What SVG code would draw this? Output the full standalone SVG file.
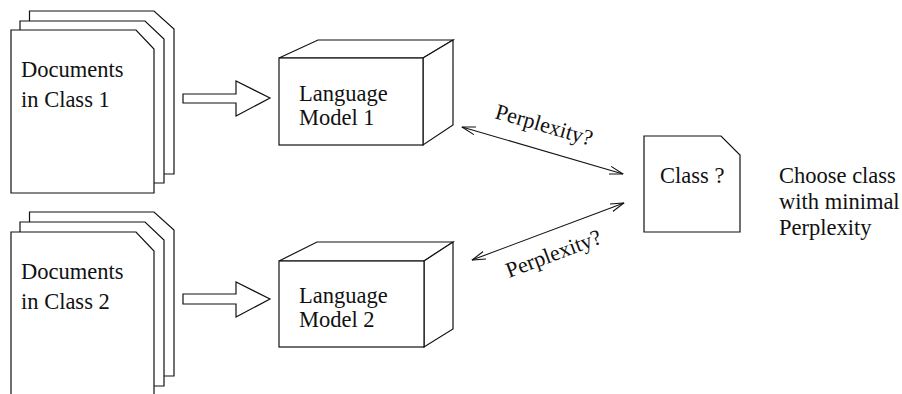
<svg xmlns="http://www.w3.org/2000/svg" width="902" height="394" viewBox="0 0 902 394">
<style>
.s{fill:#fff;stroke:#111;stroke-width:1.2;stroke-linejoin:miter}
.t{font-family:"Liberation Serif","Times New Roman",serif;font-size:22.5px;fill:#111}
.c{fill:none;stroke:#111;stroke-width:1.1}
</style>
<defs>
<marker id="ah" viewBox="0 0 14 10" refX="13.5" refY="5" markerWidth="14" markerHeight="10" markerUnits="userSpaceOnUse" orient="auto-start-reverse">
<path d="M0,1 L13.5,5 L0,9" fill="none" stroke="#111" stroke-width="1.1"/>
</marker>
</defs>
<rect width="902" height="394" fill="#fff"/>
<g id="docs1">
<polygon class="s" points="29.5,11 154,11 174,29 174,174 29.5,174"/>
<polygon class="s" points="20,21 145,21 164,39 164,183 20,183"/>
<polygon class="s" points="11,30 136,30 154,49 154,193 11,193"/>
<text class="t" x="21" y="77">Documents</text>
<text class="t" x="21" y="107">in Class 1</text>
</g>
<g id="docs2">
<polygon class="s" points="29.5,212 154,212 174,230 174,376 29.5,376"/>
<polygon class="s" points="20,222 145,222 164,240 164,386 20,386"/>
<polygon class="s" points="11,232 136,232 154,251 154,396 11,396"/>
<text class="t" x="21" y="279">Documents</text>
<text class="t" x="21" y="309">in Class 2</text>
</g>
<g id="lm1">
<polygon class="s" points="279,58 318,40 453,40 423,58"/>
<polygon class="s" points="423,58 453,40 453,125 423,145"/>
<rect class="s" x="279" y="58" width="144" height="87"/>
<text class="t" x="299" y="101">Language</text>
<text class="t" x="299" y="125">Model 1</text>
</g>
<g id="lm2">
<polygon class="s" points="279,261 317,242 453,242 424,261"/>
<polygon class="s" points="424,261 453,242 453,329 424,347"/>
<rect class="s" x="279" y="261" width="145" height="86"/>
<text class="t" x="299" y="303">Language</text>
<text class="t" x="299" y="327">Model 2</text>
</g>
<g id="classq">
<polygon class="s" points="644,136 721,136 740,155 740,232 644,232"/>
<text class="t" x="660" y="183">Class ?</text>
</g>
<g id="note">
<text class="t" x="779" y="183">Choose class</text>
<text class="t" x="779" y="209">with minimal</text>
<text class="t" x="779" y="235">Perplexity</text>
</g>
<g id="connectors">
<polygon class="s" points="183,94 236,94 236,81 270,98 236,116 236,103 183,103"/>
<polygon class="s" points="183,294 236,294 236,282 270,299 236,317 236,304 183,304"/>
<line class="c" x1="462" y1="127" x2="623" y2="174" marker-start="url(#ah)" marker-end="url(#ah)"/>
<line class="c" x1="472" y1="260" x2="624" y2="203" marker-start="url(#ah)" marker-end="url(#ah)"/>
<text class="t" font-size="22" transform="translate(494,118) rotate(16)" style="font-size:22px">Perplexity?</text>
<text class="t" transform="translate(509,278) rotate(-20.5)" style="font-size:22px">Perplexity?</text>
</g>
</svg>
